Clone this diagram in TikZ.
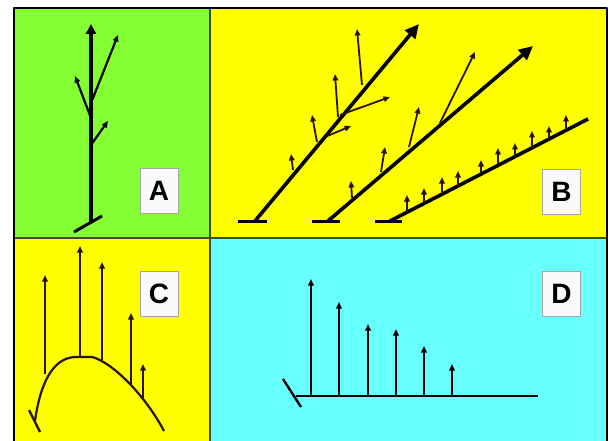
\documentclass[tikz,border=0pt]{standalone}
\usepackage{fontspec}
\usepackage{xcolor}
\usepackage{tikz}
\usetikzlibrary{arrows.meta}

\newfontfamily\tagfont{Liberation Sans}
\definecolor{panelgreen}{RGB}{132,255,52}
\definecolor{panelyellow}{RGB}{255,255,0}
\definecolor{panelcyan}{RGB}{104,255,255}
\definecolor{dividergray}{RGB}{70,70,60}
\definecolor{inkbrown}{RGB}{40,20,10}

\begin{document}
\begin{tikzpicture}[
        x=1pt, y=-1pt,
        line join=round,
        % Style des étiquettes
        tag/.style={
            rectangle,
            draw=gray!70,
            line width=1pt,
            fill=white!96!gray,
            minimum width=38pt,
            minimum height=45pt,
            inner sep=0pt,
            font=\tagfont\bfseries\fontsize{28}{28}\selectfont
        },
        % Style des tiges principales
        stem/.style={
            line width=3.6pt,
            -{Triangle[length=14pt, width=13pt]}
        },
        % Style des petites flèches
        twig/.style={
            draw=inkbrown,
            line width=1.8pt,
            -{Triangle[length=6.5pt, width=5.5pt]}
        },
        foot/.style={line width=3pt},
        divider/.style={draw=dividergray, line width=1.6pt}
    ]
    \useasboundingbox (0,0) rectangle (613,441);

    % --- FONDS ---
    \fill [panelgreen] (14,8) rectangle (210,238);
    \fill [panelyellow] (210,8) rectangle (607,238);
    \fill [panelyellow] (14,238) rectangle (210,445);
    \fill [panelcyan] (210,238) rectangle (607,445);
    \draw [divider] (210,8) -- (210,445);
    \draw [divider] (14,238) -- (607,238);
    \draw [line width=2.4pt] (14,450) -- (14,8) -- (607,8) -- (607,450);

    % --- PANNEAU A ---
    \draw [foot] (74,232) -- (102,216);
    \draw [line width=3.6pt, -{Triangle[length=10pt, width=10pt]}] (91,222) -- (91,24);
    \draw [twig, draw=black, line width=2.2pt] (91,118) -- (75,76);
    \draw [twig, draw=black, line width=2.2pt] (91,103) -- (118,35);
    \draw [twig, draw=black, line width=2.2pt] (91,145) -- (108,121);
    \node [tag] (labA) at (159,191) {A};

    % --- PANNEAU B ---
    \draw [foot] (238,221) -- (267,221);
    \draw [stem] (255,221) -- (419,24);
    \draw [twig] (293,170) -- (291,154);
    \draw [twig] (317,142) -- (312,115);
    \draw [twig] (325,137) -- (351,126);
    \draw [twig] (338,117) -- (335,74);
    \draw [twig] (340,115) -- (390,97);
    \draw [twig] (362,85) -- (357,29);

    \draw [foot] (312,221) -- (340,221);
    \draw [stem] (328,221) -- (533,46);
    \draw [twig] (352,198) -- (351,181);
    \draw [twig] (381,172) -- (385,147);
    \draw [twig] (409,147) -- (419,107);
    \draw [twig] (440,123) -- (475,52);

    \draw [foot] (375,221) -- (402,221);
    \draw [line width=3.6pt] (390,221) -- (588,119);
    \foreach \x/\y/\t in {407/212/195, 424/203/188, 442/194/177, 458/186/171,
                          481/174/160, 498/165/148, 515/157/143, 532/148/131,
                          549/139/126, 566/130/115}
        \draw [twig] (\x,\y) -- (\x,\t);
    \node [tag] (labB) at (561.5,192) {B};

    % --- PANNEAU C ---
    \draw [line width=2.4pt, inkbrown] (29,410) -- (40,432);
    \draw [line width=2.2pt, inkbrown] (35,421) .. controls (40,385) and (52,358) .. (75,357)
        -- (92,357) .. controls (112,362) and (145,395) .. (164,431);
    \draw [twig] (45,374) -- (45,275);
    \draw [twig] (80,357) -- (80,246);
    \draw [twig] (102,360) -- (102,262);
    \draw [twig] (131,385) -- (131,313);
    \draw [twig] (143,398) -- (143,364);
    \node [tag] (labC) at (159,293.5) {C};

    % --- PANNEAU D ---
    \draw [line width=2.4pt] (283,379) -- (301,407);
    \draw [line width=2.2pt] (296,396) -- (538,396);
    \foreach \x/\t in {311/279, 339/302, 368/324, 396/329, 424/346, 452/364}
        \draw [twig, draw=black] (\x,396) -- (\x,\t);
    \node [tag] (labD) at (561.5,294) {D};

\end{tikzpicture}
\end{document}
